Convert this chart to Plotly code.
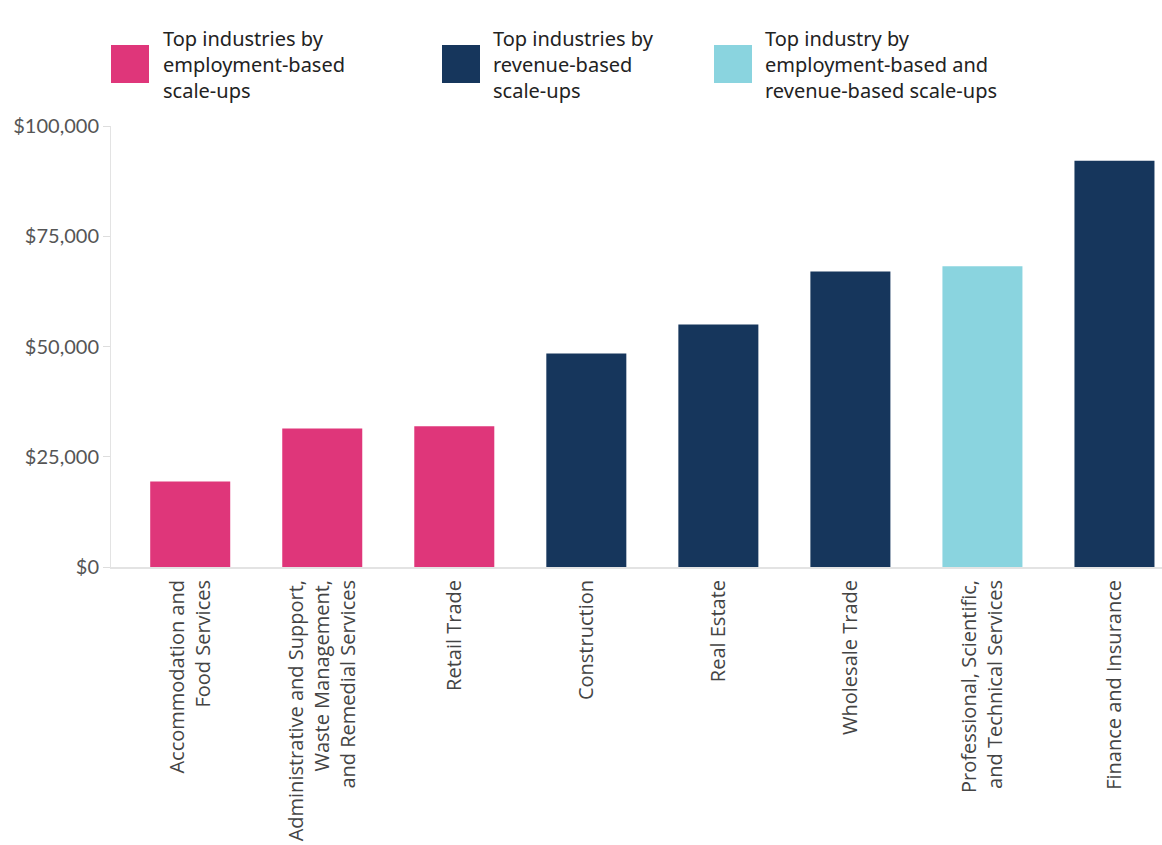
import plotly.graph_objects as go

# Industries, ordered by average revenue per firm
industries = [
    "Accommodation and<br>Food Services",
    "Administrative and Support,<br>Waste Management,<br>and Remedial Services",
    "Retail Trade",
    "Construction",
    "Real Estate",
    "Wholesale Trade",
    "Professional, Scientific,<br>and Technical Services",
    "Finance and Insurance",
]
values = [19400, 31400, 31900, 48400, 55000, 67000, 68200, 92100]
groups = ["emp", "emp", "emp", "rev", "rev", "rev", "both", "rev"]

group_colors = {"emp": "#DF367A", "rev": "#16365C", "both": "#8AD4DF"}
legend_labels = [
    ("emp", "Top industries by<br>employment-based<br>scale-ups"),
    ("rev", "Top industries by<br>revenue-based<br>scale-ups"),
    ("both", "Top industry by<br>employment-based and<br>revenue-based scale-ups"),
]

y_ticks = [0, 25000, 50000, 75000, 100000]
y_tick_text = ["$0", "$25,000", "$50,000", "$75,000", "$100,000"]

W, H = 1162, 845
M_L, M_R, M_T, M_B = 111, 0, 126, 278
PW, PH = W - M_L - M_R, H - M_T - M_B


def px_x(px):
    return (px - M_L) / PW


def px_y(py):
    return (H - M_B - py) / PH


fig = go.Figure(
    go.Bar(
        x=list(range(len(industries))),
        y=values,
        marker=dict(color=[group_colors[g] for g in groups], line=dict(width=0)),
        width=0.606,
        showlegend=False,
        hoverinfo="skip",
    )
)

# Legend built from colour swatches and wrapped labels
sw_x = [111, 442, 714]
txt_x = [163, 493, 765]
shapes, annotations = [], []
for (g, label), sx, tx in zip(legend_labels, sw_x, txt_x):
    shapes.append(dict(
        type="rect", xref="paper", yref="paper",
        x0=px_x(sx), x1=px_x(sx + 38), y0=px_y(83), y1=px_y(45),
        fillcolor=group_colors[g], line=dict(width=0),
    ))
    annotations.append(dict(
        xref="paper", yref="paper", x=px_x(tx - 2), y=px_y(64),
        xanchor="left", yanchor="middle", align="left", showarrow=False,
        text=label, font=dict(family="Noto Sans", size=20, color="#222222"),
    ))

fig.update_layout(
    width=W, height=H,
    margin=dict(l=M_L, r=M_R, t=M_T, b=M_B, autoexpand=False),
    plot_bgcolor="white", paper_bgcolor="white",
    bargap=0.394,
    shapes=shapes,
    annotations=annotations,
    xaxis=dict(
        tickmode="array",
        tickvals=list(range(len(industries))),
        ticktext=industries,
        range=[-0.6, 7.36],
        tickangle=-90,
        ticks="outside", ticklen=3, tickcolor="rgba(0,0,0,0)",
        showline=True, linecolor="#E3E3E3", linewidth=2,
        showgrid=False, zeroline=False, automargin=False,
        tickfont=dict(family="Open Sans", size=20, color="#444444"),
    ),
    yaxis=dict(
        range=[0, 100000],
        tickmode="array", tickvals=y_ticks, ticktext=y_tick_text,
        ticks="outside", ticklen=7, tickcolor="#DDDDDD", tickwidth=1,
        showline=True, linecolor="#E3E3E3", linewidth=1,
        showgrid=False, zeroline=False, automargin=False,
        tickfont=dict(family="Lato", size=20, color="#555555"),
    ),
)

fig.write_html("out.html")
